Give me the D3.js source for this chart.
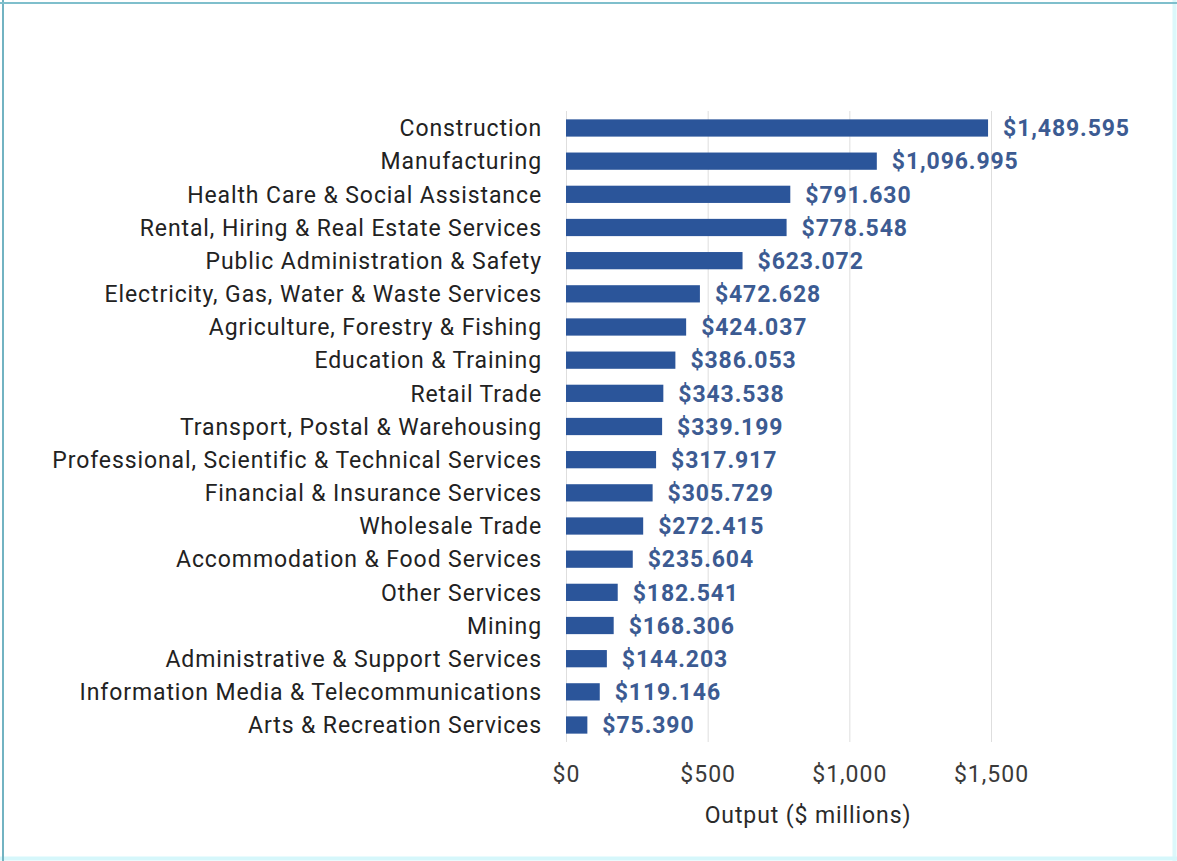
<!DOCTYPE html>
<html>
<head>
<meta charset="utf-8">
<script src="https://cdn.jsdelivr.net/npm/d3@7"></script>
<style>
  html, body { margin: 0; padding: 0; background: #fff; }
  svg { display: block; }
</style>
</head>
<body>
<svg id="chart" width="1177" height="861"></svg>
<script>
const industries = [
  "Construction",
  "Manufacturing",
  "Health Care & Social Assistance",
  "Rental, Hiring & Real Estate Services",
  "Public Administration & Safety",
  "Electricity, Gas, Water & Waste Services",
  "Agriculture, Forestry & Fishing",
  "Education & Training",
  "Retail Trade",
  "Transport, Postal & Warehousing",
  "Professional, Scientific & Technical Services",
  "Financial & Insurance Services",
  "Wholesale Trade",
  "Accommodation & Food Services",
  "Other Services",
  "Mining",
  "Administrative & Support Services",
  "Information Media & Telecommunications",
  "Arts & Recreation Services"
];
const output = [
  1489.595, 1096.995, 791.630, 778.548, 623.072, 472.628, 424.037, 386.053,
  343.538, 339.199, 317.917, 305.729, 272.415, 235.604, 182.541, 168.306,
  144.203, 119.146, 75.390
];
const xTicks = [0, 500, 1000, 1500];
const xTitle = "Output ($ millions)";

const W = 1177, H = 861;
const svg = d3.select("#chart");

// frame
svg.append("rect").attr("x", 0).attr("y", 0).attr("width", W).attr("height", H).attr("fill", "#fff");
svg.append("line").attr("x1", 1174.5).attr("x2", 1174.5).attr("y1", 0).attr("y2", H)
  .attr("stroke", "#dcf8fb").attr("stroke-width", 4);
svg.append("line").attr("x1", 0).attr("x2", W).attr("y1", 858.5).attr("y2", 858.5)
  .attr("stroke", "#d6f7fb").attr("stroke-width", 4);
svg.append("line").attr("x1", 3).attr("x2", 3).attr("y1", 0).attr("y2", H)
  .attr("stroke", "#72b3c2").attr("stroke-width", 2);
svg.append("line").attr("x1", 0).attr("x2", W).attr("y1", 3).attr("y2", 3)
  .attr("stroke", "#7fbfcc").attr("stroke-width", 2);

const x = d3.scaleLinear().domain([0, 1500]).range([566, 991]);
const y = d3.scaleBand().domain(industries).range([111.4, 741.6])
  .paddingInner(0.48).paddingOuter(0.24);

const font = "Roboto, 'Noto Sans', sans-serif";

// vertical gridlines
svg.append("g").selectAll("line").data(xTicks).join("line")
  .attr("x1", d => x(d) + 0.5).attr("x2", d => x(d) + 0.5)
  .attr("y1", 111).attr("y2", 742)
  .attr("stroke", "#dedede").attr("stroke-width", 1);

// bars
svg.append("g").selectAll("rect").data(industries).join("rect")
  .attr("x", x(0))
  .attr("y", d => y(d))
  .attr("width", (d, i) => x(output[i]) - x(0))
  .attr("height", y.bandwidth())
  .attr("fill", "#2b559a");

// category labels
svg.append("g").selectAll("text").data(industries).join("text")
  .attr("x", 542)
  .attr("y", d => y(d) + y.bandwidth() / 2)
  .attr("dy", "0.36em")
  .attr("text-anchor", "end")
  .attr("font-family", font)
  .attr("font-size", 23)
  .attr("letter-spacing", 0.9)
  .attr("fill", "#222")
  .text(d => d);

// value labels
const fmt = v => "$" + d3.format(",.3f")(v);
svg.append("g").selectAll("text").data(industries).join("text")
  .attr("x", (d, i) => x(output[i]) + 15)
  .attr("y", d => y(d) + y.bandwidth() / 2)
  .attr("dy", "0.36em")
  .attr("font-family", font)
  .attr("font-size", 23)
  .attr("letter-spacing", 0.9)
  .attr("font-weight", "bold")
  .attr("fill", "#3c5b92")
  .text((d, i) => fmt(output[i]));

// x tick labels
svg.append("g").selectAll("text").data(xTicks).join("text")
  .attr("x", d => x(d) + 0.5)
  .attr("y", 782)
  .attr("text-anchor", "middle")
  .attr("font-family", font)
  .attr("font-size", 23)
  .attr("letter-spacing", 1)
  .attr("fill", "#3a3a3a")
  .text(d => "$" + d3.format(",")(d));

// x axis title
svg.append("text")
  .attr("x", 808).attr("y", 823)
  .attr("text-anchor", "middle")
  .attr("font-family", font)
  .attr("font-size", 23)
  .attr("letter-spacing", 0.9)
  .attr("fill", "#2a2a2a")
  .text(xTitle);
</script>
</body>
</html>
